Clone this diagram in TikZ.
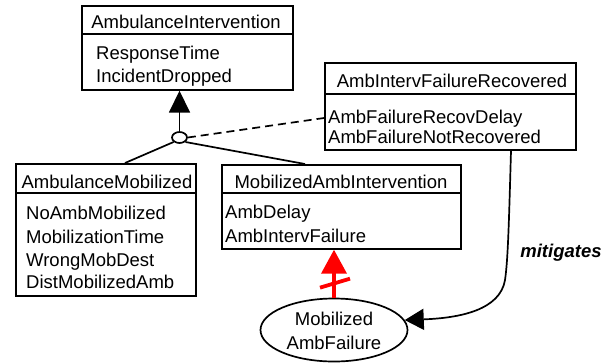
\documentclass[tikz,border=0pt]{standalone}
\usepackage{fontspec}
\setmainfont{Liberation Sans}
\usetikzlibrary{arrows.meta,calc,shapes.geometric}
\begin{document}
\begin{tikzpicture}[x=1bp,y=-1bp,
 box/.style={draw,line width=1.7bp,rectangle,inner sep=0,anchor=north west},
 ttl/.style={anchor=base,inner sep=0,font=\fontsize{18.5bp}{23bp}\selectfont},
 attr/.style={anchor=base west,inner sep=0,font=\fontsize{18.5bp}{23bp}\selectfont},
 conn/.style={line width=1.7bp},
 redc/.style={red,line width=3.8bp},
]
\useasboundingbox (0,0) rectangle (613,362);

% AmbulanceIntervention
\node[box,minimum width=211bp,minimum height=84bp] (ai) at (81,5) {};
\draw[conn] ($(ai.north west)+(0,29)$) -- ($(ai.north east)+(0,29)$);
\node[ttl] (aiT) at (186,28) {AmbulanceIntervention};
\node[attr] (ai1) at (96,59) {ResponseTime};
\node[attr] (ai2) at (96,82) {IncidentDropped};

% AmbIntervFailureRecovered
\node[box,minimum width=251bp,minimum height=87bp] (aifr) at (324,62) {};
\draw[conn] ($(aifr.north west)+(0,32)$) -- ($(aifr.north east)+(0,32)$);
\node[ttl] (aifrT) at (452,87) {AmbIntervFailureRecovered};
\node[attr] (aifr1) at (328,123) {AmbFailureRecovDelay};
\node[attr] (aifr2) at (328,143) {AmbFailureNotRecovered};

% AmbulanceMobilized
\node[box,minimum width=180bp,minimum height=132bp] (am) at (15,163) {};
\draw[conn] ($(am.north west)+(0,30)$) -- ($(am.north east)+(0,30)$);
\node[ttl] (amT) at (107,188) {AmbulanceMobilized};
\node[attr] (am1) at (26,219) {NoAmbMobilized};
\node[attr] (am2) at (26,243) {MobilizationTime};
\node[attr] (am3) at (26,266) {WrongMobDest};
\node[attr] (am4) at (26,288) {DistMobilizedAmb};

% MobilizedAmbIntervention
\node[box,minimum width=239bp,minimum height=84bp] (mai) at (221,164) {};
\draw[conn] ($(mai.north west)+(0,29)$) -- ($(mai.north east)+(0,29)$);
\node[ttl] (maiT) at (341,188) {MobilizedAmbIntervention};
\node[attr] (mai1) at (225,218) {AmbDelay};
\node[attr] (mai2) at (225,242) {AmbIntervFailure};

% obstacle ellipse
\node[draw,ellipse,line width=1.7bp,minimum width=147bp,minimum height=63bp,inner sep=0] (e) at (334,330) {};
\node[ttl] (e1) at (334,325) {Mobilized};
\node[ttl] (e2) at (334,349) {AmbFailure};

% refinement circle
\node[draw,ellipse,line width=1.7bp,minimum width=15bp,minimum height=11bp,inner sep=0,fill=white] (c) at (179.5,137.5) {};

\draw[conn,-{Triangle[width=21bp,length=22bp]}] (c.north) -- (c.north |- ai.south);
\draw[conn,dash pattern=on 8bp off 5bp] (c.east) -- ($(aifr.north west)+(0,56)$);
\draw[conn] (c.south west) -- ($(am.north west)+(110,0)$);
\draw[conn] (c.south east) -- ($(mai.north west)+(84,0)$);

% obstruction (red)
\draw[redc,-{Triangle[width=25bp,length=24bp]}] (e.north) -- (e.north |- mai.south);
\draw[redc] ($(e.north)+(-14,-10)$) -- ($(e.north)+(16,-19)$);

% mitigates
\draw[conn,-{Triangle[width=21bp,length=19bp]}] ($(aifr.south west)+(187,0)$) .. controls (509,220) and (508,260) .. (505,280) .. controls (500,310) and (460,318) .. (e.8);
\node[anchor=base,inner sep=0,font=\fontsize{18.5bp}{23bp}\selectfont\bfseries\itshape] (mit) at (561,257) {mitigates};
\end{tikzpicture}
\end{document}
